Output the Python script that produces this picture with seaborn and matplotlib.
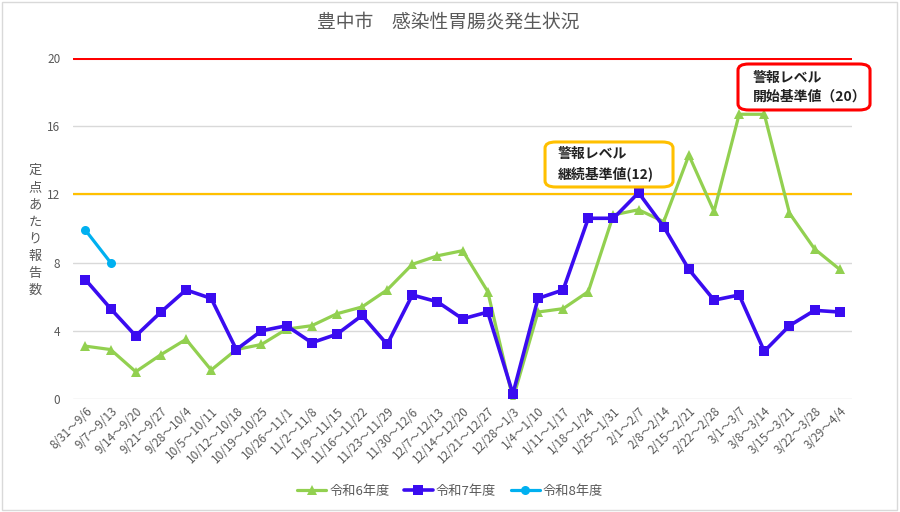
import pandas as pd
import matplotlib
matplotlib.use('Agg')
import matplotlib.pyplot as plt
import seaborn as sns
from matplotlib.patches import Rectangle, FancyBboxPatch

weeks = ['8/31～9/6', '9/7～9/13', '9/14～9/20', '9/21～9/27', '9/28～10/4',
         '10/5～10/11', '10/12～10/18', '10/19～10/25', '10/26～11/1', '11/2～11/8',
         '11/9～11/15', '11/16～11/22', '11/23～11/29', '11/30～12/6', '12/7～12/13',
         '12/14～12/20', '12/21～12/27', '12/28～1/3', '1/4～1/10', '1/11～1/17',
         '1/18～1/24', '1/25～1/31', '2/1～2/7', '2/8～2/14', '2/15～2/21',
         '2/22～2/28', '3/1～3/7', '3/8～3/14', '3/15～3/21', '3/22～3/28', '3/29～4/4']
r6 = [3.1, 2.9, 1.6, 2.6, 3.5, 1.7, 2.9, 3.2, 4.1, 4.3, 5.0, 5.4, 6.4, 7.9, 8.4,
      8.7, 6.3, 0.0, 5.1, 5.3, 6.3, 10.8, 11.1, 10.4, 14.3, 11.0, 16.7, 16.7,
      10.9, 8.8, 7.6]
r7 = [7.0, 5.3, 3.7, 5.1, 6.4, 5.9, 2.9, 4.0, 4.3, 3.3, 3.8, 4.9, 3.2, 6.1, 5.7,
      4.7, 5.1, 0.3, 5.9, 6.4, 10.6, 10.6, 12.1, 10.1, 7.6, 5.8, 6.1, 2.8, 4.3,
      5.2, 5.1]
r8 = [9.9, 8.0]
series_names = ['令和6年度', '令和7年度', '令和8年度']
start_level = 20
continue_level = 12

sns.set_style('white')
plt.rcParams['font.family'] = ['Noto Sans CJK JP', 'DejaVu Sans']

fig = plt.figure(figsize=(9, 5.12), dpi=100)
ax = fig.add_axes([0.081, 0.2207, 0.866, 0.666])

gray = '#595959'
ax.yaxis.grid(True, color='#D9D9D9', linewidth=1)
ax.set_axisbelow(True)

ax.axhline(start_level, color='#FF0000', linewidth=2.2, zorder=2)
ax.axhline(continue_level, color='#FFC000', linewidth=1.6, zorder=2)

sns.lineplot(x=list(range(len(r6))), y=r6, ax=ax, color='#92D050', linewidth=2.3,
             marker='^', markersize=7, markeredgewidth=0, label=series_names[0], zorder=3)
sns.lineplot(x=list(range(len(r7))), y=r7, ax=ax, color='#3A0CF0', linewidth=2.6,
             marker='s', markersize=7, markeredgewidth=0, label=series_names[1], zorder=4)
sns.lineplot(x=list(range(len(r8))), y=r8, ax=ax, color='#00B0F0', linewidth=2.3,
             marker='o', markersize=6.5, markeredgewidth=0, label=series_names[2], zorder=5)

ax.set_xlim(-0.5, len(weeks) - 0.5)
ax.set_ylim(0, 20)
ax.set_yticks(range(0, 21, 4))
ax.set_xticks(range(len(weeks)))
ax.set_xticklabels(weeks, rotation=45, ha='right', rotation_mode='anchor')
ax.tick_params(axis='x', labelsize=8.5, colors=gray, length=0, pad=4)
ax.tick_params(axis='y', labelsize=8.5, colors=gray, length=0, pad=9)
sns.despine(ax=ax, left=True, bottom=True)
ax.set_xlabel('')
ax.set_ylabel('')

fig.text(0.498, 0.957, '豊中市　感染性胃腸炎発生状況', ha='center', va='center',
         fontsize=13.5, color=gray)
fig.text(0.039, 0.55, '\n'.join('定点あたり報告数'), ha='center', va='center',
         fontsize=9.5, color=gray, linespacing=1.42)

# alert level boxes
fig.add_artist(FancyBboxPatch((0.6056, 0.6348), 0.1422, 0.0879,
                              boxstyle='round,pad=0,rounding_size=0.012',
                              transform=fig.transFigure, fc='white', ec='#FFC000', lw=2.2))
fig.text(0.62, 0.679, '警報レベル\n継続基準値(12)', ha='left', va='center',
         fontsize=10, fontweight='bold', color='#222222', linespacing=1.45)
fig.add_artist(FancyBboxPatch((0.82, 0.7852), 0.1467, 0.0898,
                              boxstyle='round,pad=0,rounding_size=0.012',
                              transform=fig.transFigure, fc='white', ec='#FF0000', lw=2.2))
fig.text(0.8367, 0.830, '警報レベル\n開始基準値（20）', ha='left', va='center',
         fontsize=10, fontweight='bold', color='#222222', linespacing=1.45)

ax.legend(loc='center', bbox_to_anchor=(0.5, 0.041), bbox_transform=fig.transFigure,
          ncol=3, frameon=False, fontsize=9.5, labelcolor=gray, handlelength=2.2,
          handletextpad=0.2, columnspacing=1.1)

fig.add_artist(Rectangle((0.002, 0.003), 0.995, 0.993, transform=fig.transFigure,
                         fill=False, ec='#D9D9D9', lw=1))

fig.savefig('out.png', dpi=100)
